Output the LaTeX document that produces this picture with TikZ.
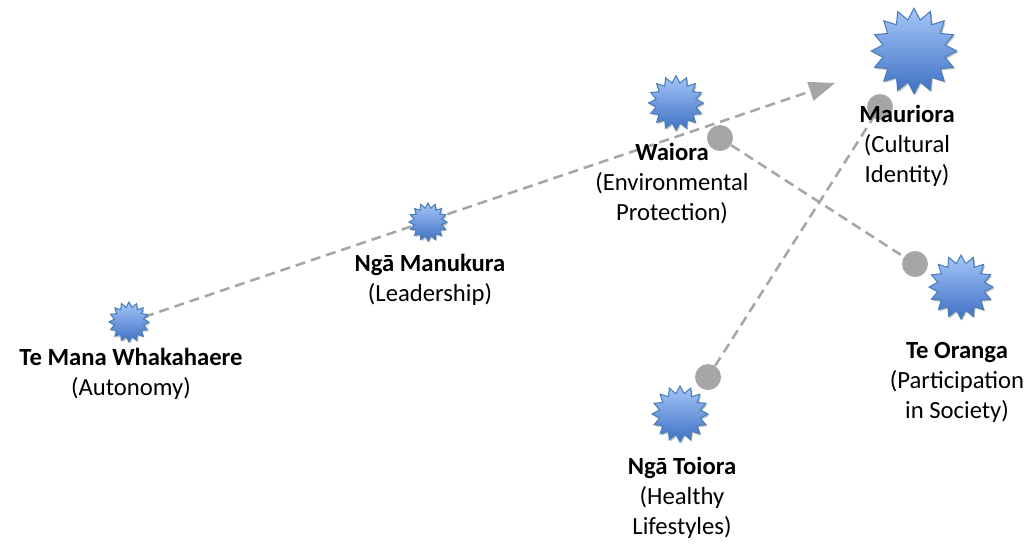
\documentclass[tikz,border=0pt]{standalone}
\usepackage{fontspec}
\setmainfont{Carlito}
\usetikzlibrary{shapes.geometric,arrows.meta,shadows}
\definecolor{linegray}{RGB}{166,166,166}
\definecolor{startop}{RGB}{165,198,248}
\definecolor{starbot}{RGB}{62,112,196}
\definecolor{starline}{RGB}{74,126,187}
\tikzset{
  burst/.style={star, star points=16, star point ratio=1.35, inner sep=0pt,
    minimum size=#1, draw=starline, line width=0.8pt,
    top color=startop, bottom color=starbot,
    drop shadow={shadow xshift=1pt, shadow yshift=-1.2pt, fill=black, opacity=0.25}},
  dot/.style={circle, fill=linegray, inner sep=0pt, minimum size=19.5pt},
  conn/.style={draw=linegray, line width=1.9pt, dash pattern=on 7.5pt off 4.5pt},
  lbl/.style={align=center, font=\fontsize{18.5}{22.5}\selectfont, inner sep=0pt}
}
\begin{document}
\begin{tikzpicture}[x=0.75pt,y=-0.75pt]
\useasboundingbox (0,0) rectangle (1034,543);
% connector end points and dots
\coordinate (tip) at (835,83);
\node[dot] (dw) at (720,138) {};
\node[dot] (dm) at (880,107) {};
\node[dot] (do) at (915,264) {};
\node[dot] (dt) at (708,377) {};
% star positions
\path (129,322) coordinate (ptm)
      (428,222) coordinate (pnm)
      (676,103) coordinate (pw)
      (914,51) coordinate (pm)
      (961,287) coordinate (po)
      (680,414) coordinate (pt);
% connectors
\draw[conn, -{Triangle[length=19.5pt,width=14.5pt]}] (ptm) -- (tip);
\draw[conn] (dw) -- (do);
\draw[conn] (dt) -- (dm);
% stars
\node[burst=30pt] (tm) at (ptm) {};
\node[burst=28.5pt] (nm) at (pnm) {};
\node[burst=41pt] (w) at (pw) {};
\node[burst=64pt] (m) at (pm) {};
\node[burst=48pt] (o) at (po) {};
\node[burst=42pt] (t) at (pt) {};
% labels
\node[lbl] (ltm) at (131,374) {\textbf{Te Mana Whakahaere}\\(Autonomy)};
\node[lbl] (lnm) at (430,280) {\textbf{Ngā Manukura}\\(Leadership)};
\node[lbl] (lw) at (672,184) {\textbf{Waiora}\\(Environmental\\Protection)};
\node[lbl] (lm) at (907,146) {\textbf{Mauriora}\\(Cultural\\Identity)};
\node[lbl] (lo) at (957,382) {\textbf{Te Oranga}\\(Participation\\in Society)};
\node[lbl] (lt) at (682,498) {\textbf{Ngā Toiora}\\(Healthy\\Lifestyles)};
\end{tikzpicture}
\end{document}
